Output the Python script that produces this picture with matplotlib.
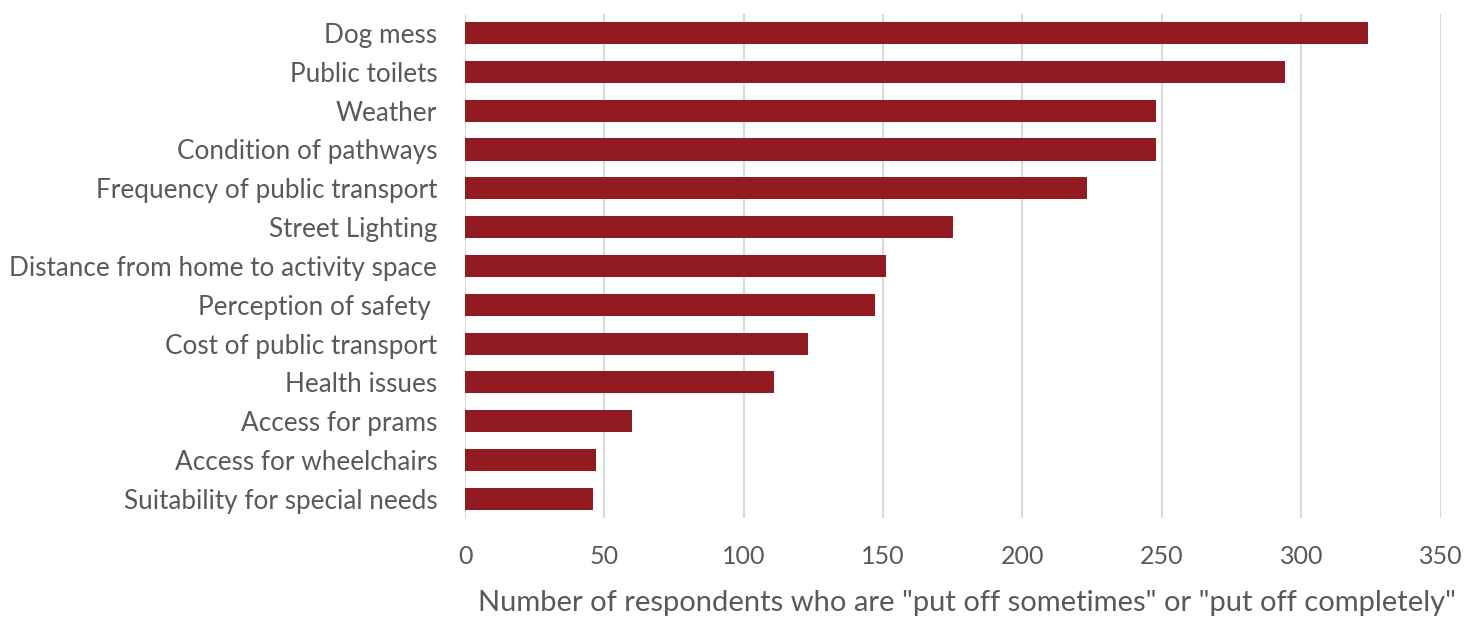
import matplotlib
matplotlib.use("Agg")
import matplotlib.pyplot as plt

categories = [
    "Dog mess",
    "Public toilets",
    "Weather",
    "Condition of pathways",
    "Frequency of public transport",
    "Street Lighting",
    "Distance from home to activity space",
    "Perception of safety ",
    "Cost of public transport",
    "Health issues",
    "Access for prams",
    "Access for wheelchairs",
    "Suitability for special needs",
]
respondents = [324, 294, 248, 248, 223, 175, 151, 147, 123, 111, 60, 47, 46]
x_ticks = [0, 50, 100, 150, 200, 250, 300, 350]
x_label = 'Number of respondents who are "put off sometimes" or "put off completely"'

bar_color = "#921a21"
text_color = "#595959"
grid_color = "#d9d9d9"

plt.rcParams["font.family"] = ["Lato", "DejaVu Sans"]

fig = plt.figure(figsize=(14.67, 6.17), dpi=100)
ax = fig.add_axes([0.317, 0.160, 0.665, 0.818])

pos = list(range(len(categories)))
ax.barh(pos, respondents, height=0.57, color=bar_color, zorder=3)

ax.set_ylim(len(categories) - 0.5, -0.5)
ax.set_xlim(0, 350)
ax.set_yticks(pos)
ax.set_yticklabels(categories, fontsize=18.8, color=text_color)
ax.set_xticks(x_ticks)
ax.set_xticklabels([str(t) for t in x_ticks], fontsize=18, color=text_color)
ax.tick_params(axis="both", length=0)
ax.tick_params(axis="y", pad=20)
ax.tick_params(axis="x", pad=19)

ax.grid(axis="x", color=grid_color, linewidth=1.5, zorder=0)
for s in ax.spines.values():
    s.set_visible(False)

ax.set_xlabel(x_label, fontsize=21, color=text_color)
ax.xaxis.set_label_coords(0.515, -0.143)

fig.savefig("out.png", dpi=100, facecolor="white")
